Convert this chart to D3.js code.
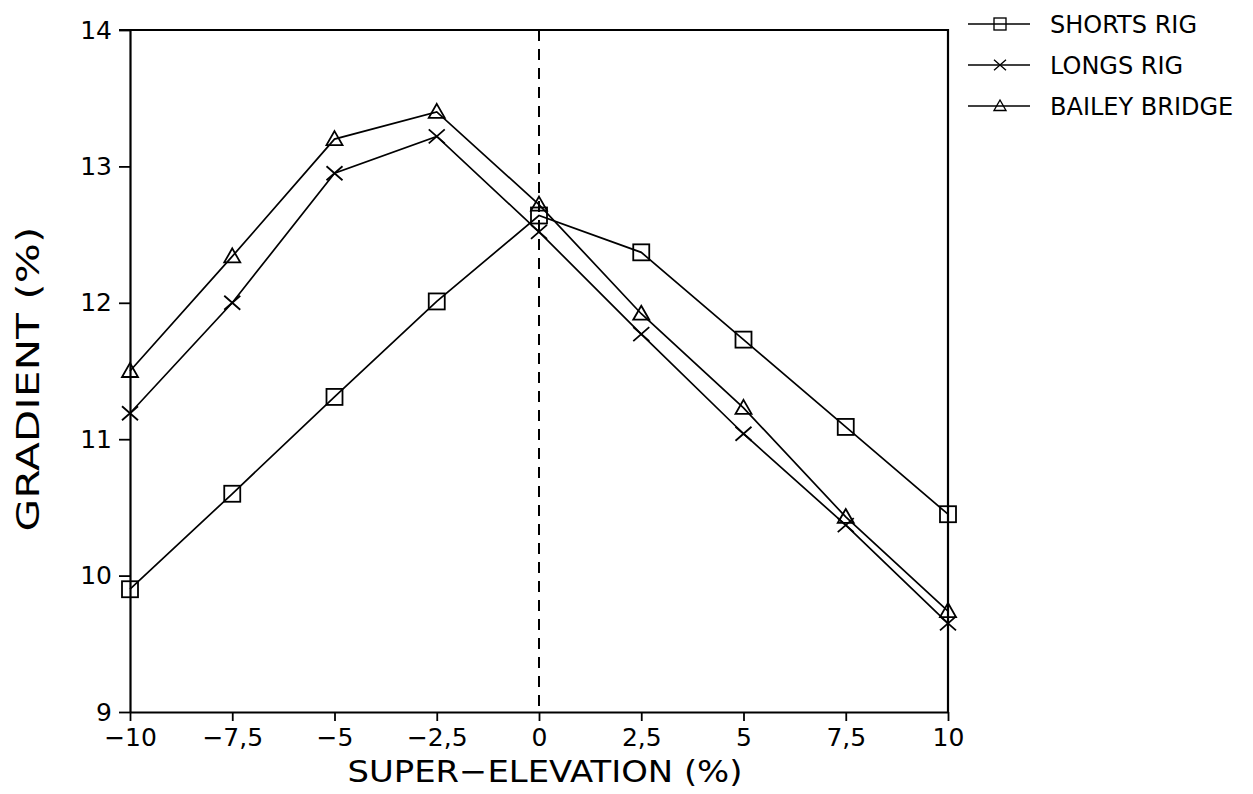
<!DOCTYPE html>
<html>
<head>
<meta charset="utf-8">
<script src="https://cdn.jsdelivr.net/npm/d3@7"></script>
<style>
  body { margin: 0; background: #fff; }
  svg text { font-family: "DejaVu Sans", "Liberation Sans", sans-serif; fill: #000; }
</style>
</head>
<body>
<svg id="chart" width="1253" height="794"></svg>
<script>
// super-elevation (%)
const elevation = [-10, -7.5, -5, -2.5, 0, 2.5, 5, 7.5, 10]

// gradient (%) per rig
const shortsRig = [9.90, 10.60, 11.31, 12.01, 12.64, 12.37, 11.73, 11.09, 10.45]
const longsRig = [11.19, 12.00, 12.95, 13.22, 12.52, 11.77, 11.04, 10.37, 9.65]
const baileyBridge = [11.50, 12.34, 13.20, 13.40, 12.72, 11.92, 11.23, 10.43, 9.74]

const seriesNames = ["SHORTS RIG", "LONGS RIG", "BAILEY BRIDGE"]
const seriesMarks = ["square", "cross", "triangle"]

const xTicks = [-10, -7.5, -5, -2.5, 0, 2.5, 5, 7.5, 10]
const yTicks = [9, 10, 11, 12, 13, 14]

const margin = { left: 130, right: 305, top: 30, bottom: 82 }
const W = 1253, H = 794

const x = d3.scaleLinear().domain([-10, 10]).range([margin.left, W - margin.right])
const y = d3.scaleLinear().domain([9, 14]).range([H - margin.bottom, margin.top])

const svg = d3.select("#chart")

const series = [shortsRig, longsRig, baileyBridge].map((vals, i) => ({
  name: seriesNames[i],
  mark: seriesMarks[i],
  points: elevation.map((e, j) => ({ e, g: vals[j] }))
}))

// marker shapes, drawn round 0,0
function drawMark(g, kind) {
  if (kind === "square") {
    g.append("rect").attr("x", -8).attr("y", -8).attr("width", 16).attr("height", 16)
  } else if (kind === "cross") {
    g.append("path").attr("d", "M-8,-7L8,7M-8,7L8,-7")
  } else {
    g.append("path").attr("d", "M0,-8L8,6L-8,6Z")
  }
  g.attr("fill", "none").attr("stroke", "#000").attr("stroke-width", 1.8)
}

// axes
svg.append("g")
  .attr("transform", `translate(0,${y(9)})`)
  .call(d3.axisBottom(x).tickValues(xTicks).tickSizeInner(9).tickSizeOuter(0).tickPadding(7)
    .tickFormat(d => d3.format("")(d).replace("-", "\u2212").replace(".", ",")))
  .call(g => g.select(".domain").attr("stroke-width", 2.2))
  .call(g => g.selectAll("line").attr("stroke-width", 1.8))
  .call(g => g.selectAll("text").attr("font-size", 25))

svg.append("g")
  .attr("transform", `translate(${x(-10)},0)`)
  .call(d3.axisLeft(y).tickValues(yTicks).tickSizeInner(11).tickSizeOuter(0).tickPadding(7)
    .tickFormat(d3.format("d")))
  .call(g => g.select(".domain").attr("stroke-width", 2.2))
  .call(g => g.selectAll("line").attr("stroke-width", 1.8))
  .call(g => g.selectAll("text").attr("font-size", 25))

// top and right frame
svg.append("path")
  .attr("d", `M${x(-10) - 11},${y(14)}H${x(10)}V${y(9)}`)
  .attr("fill", "none").attr("stroke", "#000").attr("stroke-width", 2.2)

// zero line
svg.append("line")
  .attr("x1", x(0)).attr("x2", x(0)).attr("y1", y(14)).attr("y2", y(9))
  .attr("stroke", "#000").attr("stroke-width", 2).attr("stroke-dasharray", "11,8")

const line = d3.line().x(d => x(d.e)).y(d => y(d.g))

const sg = svg.selectAll("g.series").data(series).enter().append("g").attr("class", "series")

sg.append("path")
  .attr("d", d => line(d.points))
  .attr("fill", "none").attr("stroke", "#000").attr("stroke-width", 1.7)

sg.each(function(s) {
  d3.select(this).selectAll("g.mark").data(s.points).enter().append("g")
    .attr("class", "mark")
    .attr("transform", d => `translate(${x(d.e)},${y(d.g)})`)
    .each(function() { drawMark(d3.select(this), s.mark) })
})

// axis titles
svg.append("text")
  .attr("x", 545).attr("y", 782)
  .attr("text-anchor", "middle").attr("font-size", 31)
  .attr("textLength", 395).attr("lengthAdjust", "spacingAndGlyphs")
  .text("SUPER\u2212ELEVATION (%)")

svg.append("text")
  .attr("transform", `translate(39,379) rotate(-90)`)
  .attr("text-anchor", "middle").attr("font-size", 32)
  .attr("textLength", 305).attr("lengthAdjust", "spacingAndGlyphs")
  .text("GRADIENT (%)")

// legend
const legend = svg.append("g").attr("transform", "translate(968,24)")
const lg = legend.selectAll("g").data(series).enter().append("g")
  .attr("transform", (d, i) => `translate(0,${i * 41})`)
lg.append("line").attr("x1", 0).attr("x2", 62).attr("stroke", "#000").attr("stroke-width", 1.7)
lg.append("g").attr("transform", "translate(32,0) scale(0.75)").each(function(d) { drawMark(d3.select(this), d.mark) })
lg.append("text").attr("x", 82).attr("dy", "0.36em").attr("font-size", 24).text(d => d.name)
</script>
</body>
</html>
